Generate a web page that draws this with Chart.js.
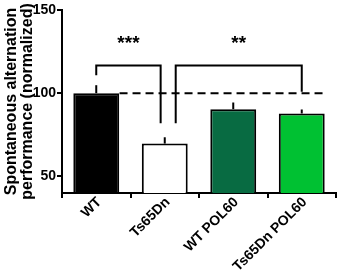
<!DOCTYPE html>
<html>
<head>
  <meta charset="utf-8">
  <script src="https://cdn.jsdelivr.net/npm/chart.js"></script>
  <style>
    html, body { margin: 0; padding: 0; background: #fff; }
    #wrap { width: 340px; height: 277px; position: relative; }
  </style>
</head>
<body>
  <div id="wrap"><canvas id="altChart"></canvas></div>

  <script>
    const groups = ['WT', 'Ts65Dn', 'WT POL60', 'Ts65Dn POL60'];
    const means = [100, 69.7, 90.4, 87.8];
    const sems = [4.8, 3.8, 4.0, 2.4];
    const barColors = ['#000000', '#ffffff', '#086b42', '#00c132'];
    const yTicks = [50, 100, 150];

    // brackets: [fromIndex, toIndex, topValue, leftLegEnd, rightLegEnd, stars]
    const brackets = [
      [0, 0.94, 116.6, 110.8, 82, '***'],
      [1.16, 3.0, 116.6, 82, 100.8, '**']
    ];
    const starLevel = 130;
    const refLine = [0.34, 3.31, 100];

    const font = '"Liberation Sans", Arial, sans-serif';

    const extras = {
      id: 'extras',
      afterDatasetsDraw(chart) {
        const { ctx } = chart;
        const x = chart.scales.x, y = chart.scales.y;
        ctx.save();
        ctx.strokeStyle = '#000';
        ctx.lineWidth = 2;
        ctx.lineCap = 'butt';

        // error bars (upper only)
        means.forEach((m, i) => {
          const px = x.getPixelForValue(i);
          ctx.beginPath();
          ctx.moveTo(px, y.getPixelForValue(m));
          ctx.lineTo(px, y.getPixelForValue(m + sems[i]));
          ctx.stroke();
        });

        // dashed reference line at 100
        ctx.setLineDash([8, 5]);
        ctx.beginPath();
        ctx.moveTo(x.getPixelForValue(refLine[0]), y.getPixelForValue(refLine[2]));
        ctx.lineTo(x.getPixelForValue(refLine[1]), y.getPixelForValue(refLine[2]));
        ctx.stroke();
        ctx.setLineDash([]);

        // significance brackets
        ctx.font = 'bold 19px ' + font;
        ctx.fillStyle = '#000';
        ctx.textAlign = 'center';
        ctx.textBaseline = 'middle';
        brackets.forEach(b => {
          const x1 = x.getPixelForValue(b[0]), x2 = x.getPixelForValue(b[1]);
          const top = y.getPixelForValue(b[2]);
          ctx.beginPath();
          ctx.moveTo(x1, y.getPixelForValue(b[3]));
          ctx.lineTo(x1, top);
          ctx.lineTo(x2, top);
          ctx.lineTo(x2, y.getPixelForValue(b[4]));
          ctx.stroke();
          ctx.fillText(b[5], (x1 + x2) / 2, y.getPixelForValue(starLevel));
        });
        ctx.restore();
      }
    };

    new Chart(document.getElementById('altChart'), {
      type: 'bar',
      data: {
        labels: groups,
        datasets: [{
          data: means,
          backgroundColor: barColors,
          borderColor: '#000',
          borderWidth: 2,
          borderSkipped: false,
          barPercentage: 0.67,
          categoryPercentage: 1
        }]
      },
      options: {
        responsive: true,
        maintainAspectRatio: false,
        animation: false,
        layout: { padding: { top: 10, right: 4, left: 0, bottom: 0 } },
        plugins: { legend: { display: false }, tooltip: { enabled: false } },
        scales: {
          x: {
            afterFit: s => { s.height = 84; },
            border: { color: '#000', width: 2 },
            grid: { drawOnChartArea: false, color: '#000', lineWidth: 2, tickLength: 5 },
            ticks: {
              color: '#000', maxRotation: 45, minRotation: 45, padding: -4, labelOffset: 3,
              autoSkip: false,
              font: { family: font, size: 14, weight: 'bold' }
            }
          },
          y: {
            min: 40, max: 150,
            afterFit: s => { s.width = 62; },
            afterBuildTicks: s => { s.ticks = yTicks.map(v => ({ value: v })); },
            border: { color: '#000', width: 2 },
            grid: { drawOnChartArea: false, color: '#000', lineWidth: 2, tickLength: 5 },
            ticks: {
              color: '#000', padding: 1,
              font: { family: font, size: 14, weight: 'bold' }
            },
            title: {
              display: true,
              text: ['Spontaneous alternation', 'performance (normalized)'],
              color: '#000',
              padding: { top: 4, bottom: 0 },
              font: { family: font, size: 16, weight: 'bold', lineHeight: 1.0 }
            }
          }
        }
      },
      plugins: [extras]
    });
  </script>
</body>
</html>
